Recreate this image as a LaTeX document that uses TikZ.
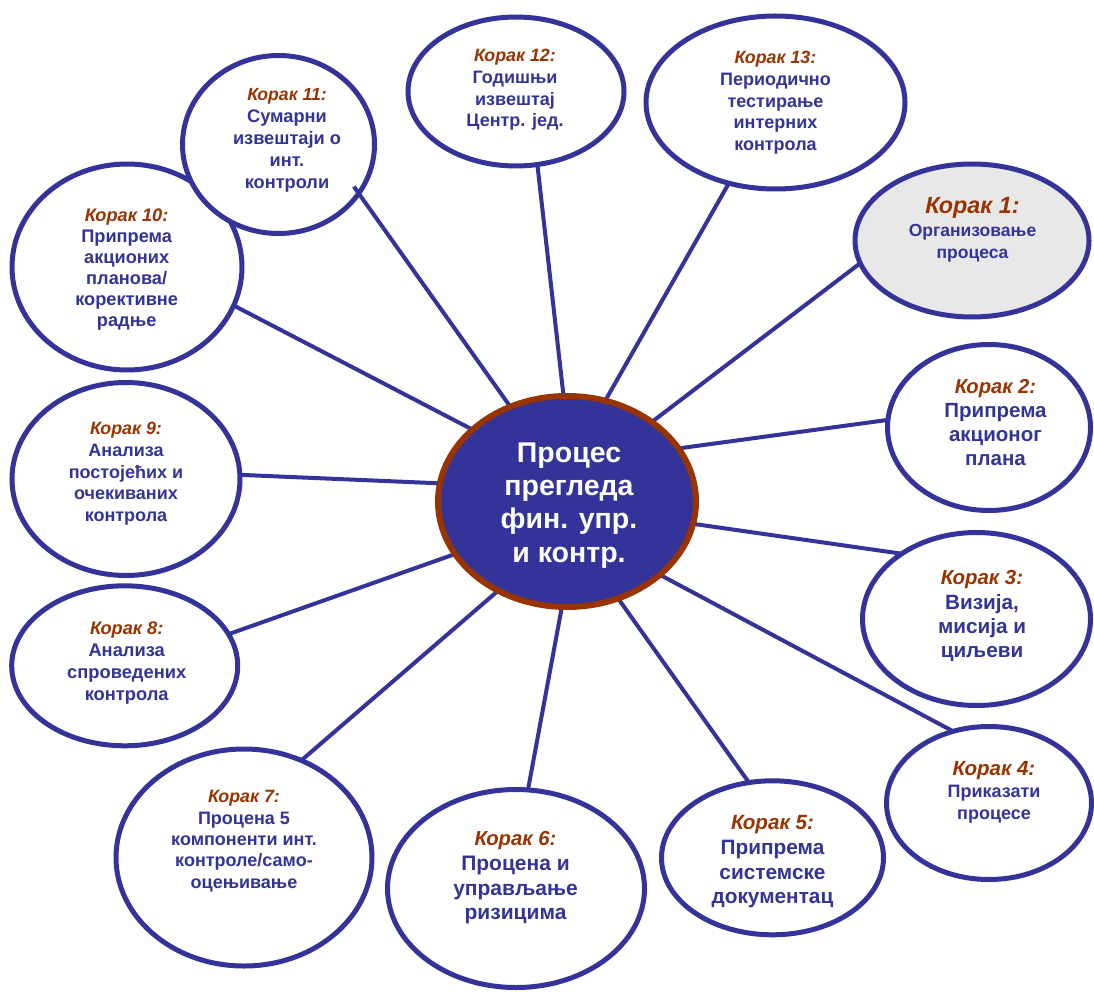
\documentclass[tikz,border=0pt]{standalone}
\usepackage{fontspec}
\setmainfont{Liberation Sans}
\usetikzlibrary{shapes.geometric,calc}
\definecolor{navy}{HTML}{333399}
\definecolor{brn}{HTML}{993300}
\definecolor{lgray}{HTML}{E8E8E8}
\pgfdeclarelayer{background}
\pgfsetlayers{background,main}
\newcommand{\korak}[2]{{\fontsize{#1}{#1}\selectfont\bfseries\itshape\color{brn}Корак #2:}}
\newcommand{\bsz}[2]{\fontsize{#1}{#2}\selectfont\bfseries}
\begin{document}
\begin{tikzpicture}[x=1pt,y=-1pt,
  stepell/.style={ellipse, draw=navy, line width=5pt, fill=white, inner sep=0pt},
  hub/.style={ellipse, draw=brn, line width=6pt, fill=navy, inner sep=0pt},
  txt/.style={inner sep=0pt, align=center, text=navy, anchor=north},
  conn/.style={draw=navy, line width=4pt, shorten <=-8pt, shorten >=-8pt},
  poke/.style={draw=navy, line width=4pt}]
\useasboundingbox (0,0) rectangle (1094,992);
% ellipses
\node[hub, minimum width=258pt, minimum height=211pt] (c) at (567,501.5) {};
\node[stepell, fill=lgray, minimum width=234pt, minimum height=153pt] (k1) at (972,240.5) {};
\node[stepell, minimum width=203pt, minimum height=166pt] (k2) at (989,427.5) {};
\node[stepell, minimum width=228pt, minimum height=173pt] (k3) at (976.5,619) {};
\node[stepell, minimum width=205pt, minimum height=153pt] (k4) at (989,803) {};
\node[stepell, minimum width=222pt, minimum height=154pt] (k5) at (772.5,857.8) {};
\node[stepell, minimum width=257pt, minimum height=198pt] (k6) at (516,888.5) {};
\node[stepell, minimum width=256pt, minimum height=217pt] (k7) at (244,857.5) {};
\node[stepell, minimum width=226pt, minimum height=160pt] (k8) at (124.7,665.8) {};
\node[stepell, minimum width=228pt, minimum height=193pt] (k9) at (126,479) {};
\node[stepell, minimum width=230pt, minimum height=206pt] (k10) at (127,267) {};
\node[stepell, minimum width=192pt, minimum height=178pt] (k11) at (278.5,144.5) {};
\node[stepell, minimum width=216pt, minimum height=149pt] (k12) at (516,91.5) {};
\node[stepell, minimum width=259pt, minimum height=173pt] (k13) at (775.5,102.5) {};
% texts
\node[txt, text=white, font=\bsz{28.5}{33.3}] (tc) at (569,442.3) {Процес\\прегледа\\фин. упр.\\и контр.};
\node[txt, font=\bsz{17.5}{22.5}] (t1) at (972.5,197.5) {\korak{23.4}{1}\\Организовање\\процеса};
\node[txt, font=\bsz{20.5}{24}] (t2) at (995.5,379.5) {\korak{20.2}{2}\\Припрема\\акционог\\плана};
\node[txt, font=\bsz{20.7}{24.3}] (t3) at (982,570.4) {\korak{20.4}{3}\\Визија,\\мисија и\\циљеви};
\node[txt, font=\bsz{18}{22}] (t4) at (994,761.3) {\korak{20.5}{4}\\Приказати\\процесе};
\node[txt, font=\bsz{20.8}{24.7}] (t5) at (772.5,815.25) {\korak{20.6}{5}\\Припрема\\системске\\документац};
\node[txt, font=\bsz{21}{24.7}] (t6) at (515.5,831.5) {\korak{20.3}{6}\\Процена и\\управљање\\ризицима};
\node[txt, font=\bsz{18}{21.3}] (t7) at (244,790.5) {\korak{17.8}{7}\\Процена 5\\компоненти инт.\\контроле/само-\\оцењивање};
\node[txt, font=\bsz{18.3}{21.7}] (t8) at (126.7,622) {\korak{18.2}{8}\\Анализа\\спроведених\\контрола};
\node[txt, font=\bsz{18}{21.7}] (t9) at (126,422.25) {\korak{17.8}{9}\\Анализа\\постојећих и\\очекиваних\\контрола};
\node[txt, font=\bsz{18.2}{21}] (t10) at (126.7,208.7) {\korak{18.2}{10}\\Припрема\\акционих\\планова/\\корективне\\радње};
\node[txt, font=\bsz{18.2}{21.9}] (t11) at (287,88.1) {\korak{17.6}{11}\\Сумарни\\извештаји о\\инт.\\контроли};
\node[txt, font=\bsz{18}{21.7}] (t12) at (515,49.25) {\korak{17.8}{12}\\Годишњи\\извештај\\Центр. јед.};
\node[txt, font=\bsz{18}{21.7}] (t13) at (775.5,51.25) {\korak{17.8}{13}\\Периодично\\тестирање\\интерних\\контрола};
% connectors
\begin{pgfonlayer}{background}
\fill[white] (0,0) rectangle (1094,992);
\draw[conn] (c.43.2) -- (k1.192.8);
\draw[conn] (c.25.6) -- (k2.176.4);
\draw[conn] (c.-10.9) -- (k3.140.6);
\draw[conn] (c.-38.5) -- (k4.118.3);
\draw[conn] (c.-62.8) -- (k5.108.8);
\draw[conn] (c.-93.8) -- (k6.83.8);
\draw[conn] (c.-128.5) -- (k7.59);
\draw[conn] (c.-155.1) -- (k8.17.8);
\draw[conn] (c.172.7) -- (k9.2.9);
\draw[conn] (c.143.4) -- (k10.-20);
\draw[conn] (c.121.3) -- (k11.-32.1);
\draw[conn] (c.92.7) -- (k12.-74);
\draw[conn] (c.69.4) -- (k13.-120.9);
\end{pgfonlayer}
\draw[poke] (k11.-32.1) -- ($(k11.-32.1)!-11pt!(c.121.3)$);
\end{tikzpicture}
\end{document}
